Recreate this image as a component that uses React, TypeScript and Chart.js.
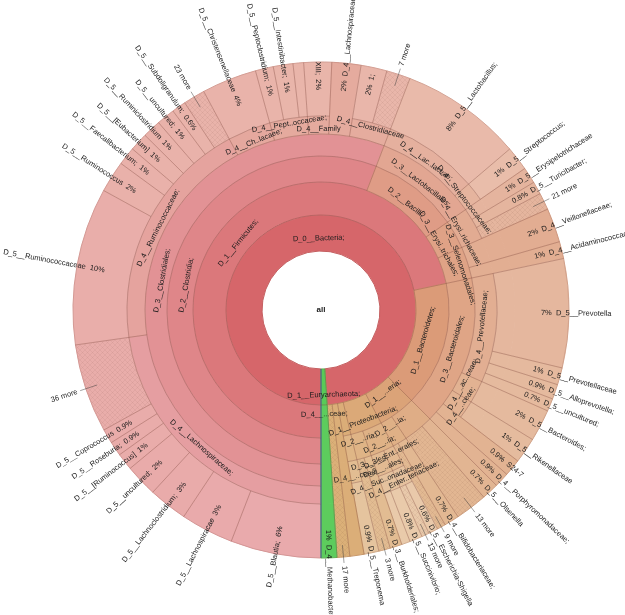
import React, { useEffect, useRef } from "react";
import { Chart, ArcElement, DoughnutController } from "chart.js";

Chart.register(ArcElement, DoughnutController);

// ---- outermost wedges (leaves), in clockwise order starting at 6 o'clock ----
const outerNames = [
  "D_5__Blautia;", "D_5__Lachnospiracae", "D_5__Lachnoclostridium;", "D_5__uncultured;", "D_5__[Ruminococcus]", "D_5__Roseburia;", "D_5__Coprococcus", "36 more",
  "D_5__Ruminococcaceae", "D_5__Ruminococcus", "D_5__Faecalibacterium;", "D_5__[Eubacterium]", "D_5__Ruminiclostridium", "D_5__uncultured;", "D_5__Subdoligranulum;", "23 more",
  "D_5__Christensenellaceae", "D_5__Peptoclostridium;", "D_5__Intestinibacter;", "", "XIII;", "D_4__Lachnospiraceae", "1;", "7 more",
  "D_5__Lactobacillus;", "D_5__Streptococcus;", "D_5__Erysipelotrichaceae", "D_5__Turicibacter;", "21 more", "D_4__Veillonellaceae;", "D_4__Acidaminococcaceae;",
  "D_5__Prevotella", "D_5__Prevotellaceae", "D_5__Alloprevotella;", "D_5__uncultured;", "D_5__Bacteroides;", "D_5__Rikenellaceae", "S24-7", "D_4__Porphyromonadaceae;",
  "D_5__Olsenella", "13 more", "D_4__Bifidobacteriaceae;", "9 more",
  "D_5__Escherichia-Shigella", "13 more", "D_5__Succinivibrio;", "", "D_3__Burkholderiales;", "3 more",
  "D_5__Treponema", "", "17 more", "D_4__Methanobacteriaceae;",
];
const outerPct = [
  "6%", "3%", "3%", "2%", "1%", "0.9%", "0.9%", "",
  "10%", "2%", "1%", "1%", "1%", "1%", "0.6%", "",
  "4%", "1%", "1%", "", "2%", "2%", "2%", "",
  "8%", "1%", "1%", "0.8%", "", "2%", "1%",
  "7%", "1%", "0.9%", "0.7%", "2%", "1%", "0.9%", "0.9%",
  "0.7%", "", "0.7%", "",
  "0.6%", "", "0.8%", "", "0.7%", "",
  "0.9%", "", "", "1%",
];
const outerValues = [
  5.89, 3.44, 2.53, 2.11, 1.11, 0.94, 0.94, 5.78,
  10.25, 2.06, 1.19, 1.19, 1.19, 1.19, 0.92, 1.42,
  3.58, 1.17, 1.28, 0.69, 1.81, 1.89, 1.69, 1.56,
  7.92, 1.58, 1.06, 0.83, 1.11, 2.22, 1.11,
  7.08, 1.11, 0.97, 0.83, 2.08, 1.67, 1.11, 0.97,
  1.11, 2.08, 0.97, 0.56,
  0.61, 0.5, 0.83, 0.56, 0.78, 0.75,
  0.97, 0.92, 0.83, 1.03,
];
// ring level at which each leaf node starts (leaf extends to the outer edge)
const outerLevel = [
  5, 5, 5, 5, 5, 5, 5, 5,
  5, 5, 5, 5, 5, 5, 5, 5,
  5, 5, 5, 5, 5, 4, 5, 5,
  5, 5, 4, 4, 4, 3, 3,
  4, 4, 4, 4, 4, 4, 3, 3,
  3, 3, 3, 3,
  5, 5, 5, 5, 3, 3,
  4, 1, 1, 1,
];

// ---- inner rings: node labels + number of outer wedges each node covers ----
const ring0Names = ["D_0__Bacteria;", "D_1__Euryarchaeota;"];
const ring0Counts = [52, 1];
const ring1Names = ["D_1__Firmicutes;", "D_1__Bacteroidetes;", "D_1__...eria;", "D_1__Proteobacteria;", "", "", "", "D_4__...ceae;"];
const ring1Counts = [31, 8, 4, 6, 1, 1, 1, 1];
const ring2Names = ["D_2__Clostridia;", "D_2__Bacilli;", "D_3__Erysi..trichales;", "D_3__Selenomonadales;", "D_3__Bacteroidales;", "", "D_2__..ia;", "D_2__..ia;", "D_2__..ria;", ""];
const ring2Counts = [24, 2, 3, 2, 8, 2, 2, 4, 2, 1];
const ring3Names = ["D_3__Clostridiales;", "D_3__Lactobacillales;", "D_4__Erysi..richaceae;", "", "", "D_4__Prevotellaceae;", "D_4__..ac..ceae;", "D_4__..ceae;", "", "", "", "", "", "", "D_3__Ent..erales;", "D_3__..ales;", "D_3__..les;", "", "D_4__..ceae;"];
const ring3Counts = [24, 2, 3, 1, 1, 4, 1, 1, 1, 1, 1, 1, 1, 1, 2, 2, 1, 1, 1];
const ring4Names = ["D_4__Lachnospiraceae;", "D_4__Ruminococcaceae;", "D_4__Ch..lacaee;", "D_4__Pept..occaceae;", "D_4__Family", "", "D_4__Clostridiaceae", "D_4__Lac..laceae;", "D_4__Streptococcaceae;", "", "", "", "", "", "", "", "", "", "D_4__Enter..teriaceae;", "D_4__Suc..onadaceae;", ""];
const ring4Counts = [8, 8, 1, 3, 1, 1, 2, 1, 1, 1, 1, 1, 1, 1, 1, 1, 1, 1, 2, 2, 1];

const LIGHT = [62, 66.5, 70, 73, 76, 79];
const FONT = "7.5px 'Liberation Sans', Arial, sans-serif";

function hueAt(phi: number): number {
  if (phi >= 355.5) return 120;
  if (phi < 200.5) return (358 + (phi / 200.5) * 14) % 360;
  if (phi < 257.5) return 15 + ((phi - 200.5) / 57) * 6;
  if (phi < 314.5) return 21 + ((phi - 257.5) / 57) * 4;
  return 26 + ((phi - 314.5) / 41) * 8;
}

function colorFor(phi: number, level: number): string {
  const h = hueAt(phi);
  if (h === 120) return `hsl(120, 52%, ${57 + level * 1.2}%)`;
  return `hsl(${h.toFixed(1)}, 58%, ${LIGHT[level]}%)`;
}

function makePattern(color: string): CanvasPattern | string {
  const c = document.createElement("canvas");
  c.width = 5;
  c.height = 5;
  const g = c.getContext("2d");
  if (!g) return color;
  g.fillStyle = color;
  g.fillRect(0, 0, 5, 5);
  g.strokeStyle = "rgba(120,70,60,0.12)";
  g.lineWidth = 0.6;
  g.beginPath();
  g.moveTo(0, 0);
  g.lineTo(5, 5);
  g.moveTo(5, 0);
  g.lineTo(0, 5);
  g.stroke();
  return g.createPattern(c, "repeat") || color;
}

type Slice = { value: number; color: string; hatch: boolean; kind: "node" | "leaf" | "cont"; label: string };

function norm(a: number): number {
  const t = Math.PI * 2;
  return ((a % t) + t) % t;
}

export default function App() {
  const ref = useRef<HTMLCanvasElement>(null);

  useEffect(() => {
    document.body.style.margin = "0";
    const canvas = ref.current;
    if (!canvas) return;
    const N = outerValues.length;
    const total = outerValues.reduce((a, b) => a + b, 0);
    const startPhi: number[] = [];
    let acc = 0;
    for (let i = 0; i < N; i++) {
      startPhi.push((acc / total) * 360);
      acc += outerValues[i];
    }
    const isMore = (i: number) => /more$/.test(outerNames[i]);
    const wedgeStyle = (i: number) => ({ color: colorFor(startPhi[i], outerLevel[i]), hatch: isMore(i) });

    const buildRing = (k: number, names: string[], counts: number[]): Slice[] => {
      const out: Slice[] = [];
      let i = 0;
      let j = 0;
      while (i < N) {
        if (outerLevel[i] < k) {
          out.push({ value: outerValues[i], ...wedgeStyle(i), kind: "cont", label: "" });
          i++;
          continue;
        }
        const c = counts[j];
        let v = 0;
        for (let t = 0; t < c; t++) v += outerValues[i + t];
        const leaf = c === 1 && outerLevel[i] === k;
        const style = leaf ? wedgeStyle(i) : { color: colorFor(startPhi[i], k), hatch: false };
        out.push({ value: v, ...style, kind: leaf ? "leaf" : "node", label: names[j] || "" });
        i += c;
        j++;
      }
      return out;
    };

    const ring5: Slice[] = outerValues.map((v, i) => ({
      value: v,
      ...wedgeStyle(i),
      kind: outerLevel[i] < 5 ? "cont" : "node",
      label: outerNames[i],
    }));
    const rings: Slice[][] = [
      ring5,
      buildRing(4, ring4Names, ring4Counts),
      buildRing(3, ring3Names, ring3Counts),
      buildRing(2, ring2Names, ring2Counts),
      buildRing(1, ring1Names, ring1Counts),
      buildRing(0, ring0Names, ring0Counts),
    ];
    const weights = [54, 18, 22, 26, 33, 36];

    const datasets = rings.map((slices, di) => ({
      data: slices.map((s) => s.value),
      backgroundColor: slices.map((s) => (s.hatch ? makePattern(s.color) : s.color)),
      borderColor: slices.map((s) => s.color),
      borderWidth: 1,
      weight: weights[di],
    }));

    const plugin = {
      id: "kronaLabels",
      afterDatasetsDraw(chart: any) {
        const ctx = chart.ctx as CanvasRenderingContext2D;
        const metas = rings.map((_, di) => chart.getDatasetMeta(di));
        const R = metas[0].data[0].outerRadius;
        const cx = metas[0].data[0].x;
        const cy = metas[0].data[0].y;
        ctx.save();
        // outlines
        ctx.lineWidth = 0.6;
        ctx.strokeStyle = "rgba(120,65,55,0.33)";
        rings.forEach((slices, di) => {
          metas[di].data.forEach((arc: any, j: number) => {
            const s = slices[j];
            if (s.kind === "cont") return;
            const ro = s.kind === "leaf" ? R : arc.outerRadius;
            ctx.beginPath();
            ctx.arc(arc.x, arc.y, ro, arc.startAngle, arc.endAngle);
            ctx.arc(arc.x, arc.y, arc.innerRadius, arc.endAngle, arc.startAngle, true);
            ctx.closePath();
            ctx.stroke();
          });
        });
        // blue edge on the archaeal wedge, as in the reference
        const last = metas[5].data[metas[5].data.length - 1];
        ctx.strokeStyle = "rgba(60,80,170,0.85)";
        ctx.lineWidth = 0.9;
        ctx.beginPath();
        ctx.moveTo(cx + last.innerRadius * Math.cos(last.endAngle), cy + last.innerRadius * Math.sin(last.endAngle));
        ctx.lineTo(cx + R * Math.cos(last.endAngle), cy + R * Math.sin(last.endAngle));
        ctx.stroke();

        ctx.font = FONT;
        ctx.fillStyle = "#1b1b1b";
        ctx.textBaseline = "middle";
        // tangential labels on inner rings
        for (let di = 1; di < rings.length; di++) {
          let toggle = di === 5;
          metas[di].data.forEach((arc: any, j: number) => {
            const s = rings[di][j];
            if (s.kind === "cont" || !s.label) return;
            const ri = arc.innerRadius;
            const w = arc.outerRadius - arc.innerRadius;
            const mid = (arc.startAngle + arc.endAngle) / 2;
            const tw = ctx.measureText(s.label).width;
            let r = ri + 0.35 * w;
            if (tw > (arc.endAngle - arc.startAngle) * r) {
              r = toggle ? ri + 0.72 * w : ri + 0.28 * w;
              toggle = !toggle;
            } else toggle = di === 5;
            const th = norm(mid + Math.PI / 2);
            const rot = th > Math.PI / 2 && th < 1.5 * Math.PI ? th - Math.PI : th;
            ctx.save();
            ctx.translate(arc.x + r * Math.cos(mid), arc.y + r * Math.sin(mid));
            ctx.rotate(rot);
            ctx.textAlign = "center";
            ctx.fillText(s.label, 0, 0);
            ctx.restore();
          });
        }
        // radial labels on the outer ring
        ctx.strokeStyle = "rgba(60,60,60,0.8)";
        ctx.lineWidth = 0.6;
        metas[0].data.forEach((arc: any, i: number) => {
          const name = outerNames[i];
          if (!name) return;
          const mid = (arc.startAngle + arc.endAngle) / 2;
          const th = norm(mid + Math.PI / 2);
          const right = th < Math.PI;
          const more = isMore(i);
          const pct = outerPct[i];
          ctx.save();
          ctx.translate(arc.x, arc.y);
          if (more) {
            ctx.beginPath();
            ctx.moveTo(236 * Math.cos(mid), 236 * Math.sin(mid));
            ctx.lineTo(254 * Math.cos(mid), 254 * Math.sin(mid));
            ctx.stroke();
          }
          ctx.rotate(right ? mid : mid + Math.PI);
          const r0 = more ? 257 : 220;
          const text = more || !pct ? name : right ? `${pct}  ${name}` : `${name}  ${pct}`;
          if (right) {
            ctx.textAlign = "left";
            ctx.fillText(text, r0, 0);
          } else {
            ctx.textAlign = "right";
            ctx.fillText(text, -r0, 0);
          }
          ctx.restore();
        });
        ctx.font = "bold 8px 'Liberation Sans', Arial, sans-serif";
        ctx.textAlign = "center";
        ctx.fillText("all", cx, cy);
        ctx.restore();
      },
    };

    const chart = new Chart(canvas, {
      type: "doughnut",
      data: { datasets: datasets as any },
      options: {
        responsive: false,
        animation: false,
        events: [],
        radius: 248,
        cutout: "23.79%",
        rotation: 180,
        circumference: 360,
        layout: { padding: { left: 17, top: 5, right: 0, bottom: 0 } },
      } as any,
      plugins: [plugin],
    });
    return () => chart.destroy();
  }, []);

  return <canvas ref={ref} width={625} height={615} style={{ display: "block" }} />;
}
